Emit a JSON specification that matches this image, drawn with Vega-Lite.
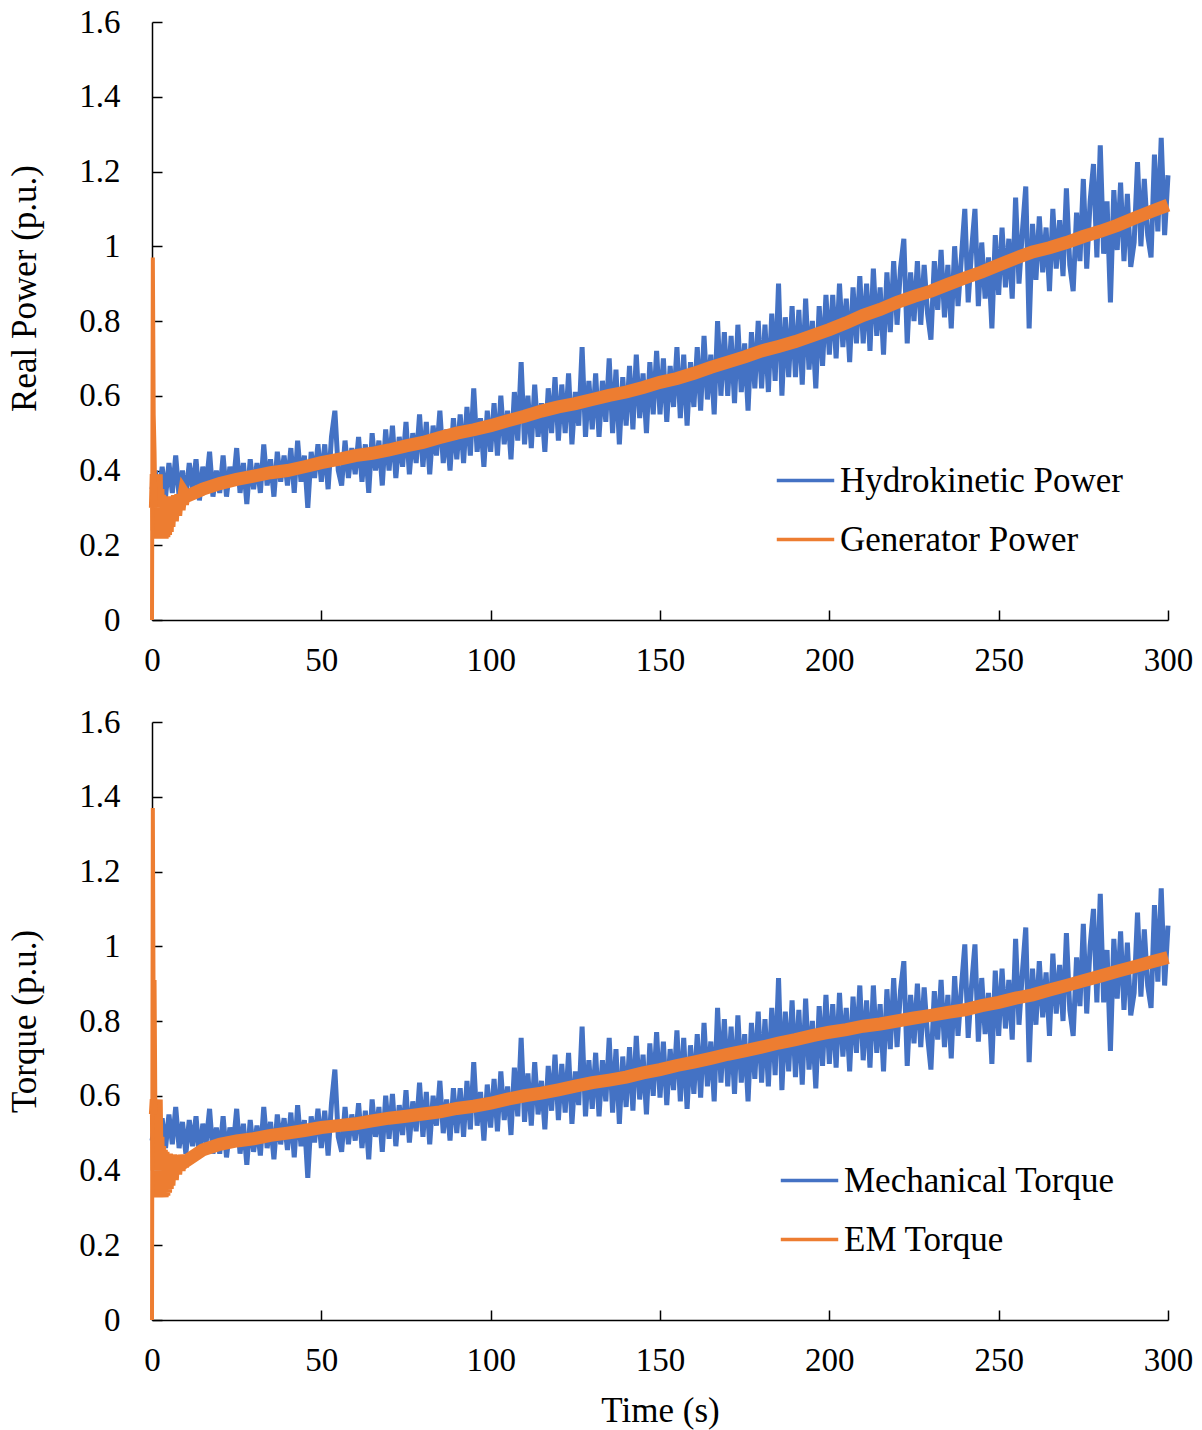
{
"$schema":"https://vega.github.io/schema/vega-lite/v6.json",
"background":"white",
"padding":{"left":7,"top":6,"right":10,"bottom":5},
"spacing":29,
"resolve":{"scale":{"color":"independent"},"legend":{"color":"independent"}},
"config":{
 "view":{"stroke":null},
 "font":"Liberation Serif",
 "axis":{"grid":false,"domainColor":"#000","domainWidth":1.5,"tickColor":"#000","tickWidth":1.5,"tickSize":-10,"labelFont":"Liberation Serif","labelFontSize":33,"labelColor":"#000","labelFlush":false,"titleFont":"Liberation Serif","titleFontSize":35,"titleFontWeight":"normal","titleColor":"#000"},
 "legend":{"labelFont":"Liberation Serif","labelFontSize":35,"labelColor":"#000","labelLimit":0}
},
"datasets":{
"hp":[{"t":0,"v":0.35},{"t":1,"v":0.40},{"t":2,"v":0.32},{"t":3,"v":0.41},{"t":4,"v":0.33},{"t":5,"v":0.42},{"t":6,"v":0.34},{"t":7,"v":0.44},{"t":8,"v":0.33},{"t":9,"v":0.40},
{"t":10,"v":0.33},{"t":11,"v":0.42},{"t":12,"v":0.35},{"t":13,"v":0.43},{"t":14,"v":0.32},{"t":15,"v":0.41},{"t":16,"v":0.36},{"t":17,"v":0.45},{"t":18,"v":0.33},{"t":19,"v":0.40},
{"t":20,"v":0.34},{"t":21,"v":0.44},{"t":22,"v":0.33},{"t":23,"v":0.41},{"t":24,"v":0.36},{"t":25,"v":0.46},{"t":26,"v":0.34},{"t":27,"v":0.42},{"t":28,"v":0.31},{"t":29,"v":0.43},
{"t":30,"v":0.35},{"t":31,"v":0.42},{"t":32,"v":0.34},{"t":33,"v":0.47},{"t":34,"v":0.36},{"t":35,"v":0.43},{"t":36,"v":0.33},{"t":37,"v":0.45},{"t":38,"v":0.37},{"t":39,"v":0.44},
{"t":40,"v":0.36},{"t":41,"v":0.46},{"t":42,"v":0.34},{"t":43,"v":0.48},{"t":44,"v":0.37},{"t":45,"v":0.44},{"t":46,"v":0.30},{"t":47,"v":0.45},{"t":48,"v":0.38},{"t":49,"v":0.47},
{"t":50,"v":0.37},{"t":51,"v":0.47},{"t":52,"v":0.35},{"t":53,"v":0.49},{"t":54,"v":0.56},{"t":55,"v":0.40},{"t":56,"v":0.36},{"t":57,"v":0.48},{"t":58,"v":0.38},{"t":59,"v":0.46},
{"t":60,"v":0.39},{"t":61,"v":0.49},{"t":62,"v":0.37},{"t":63,"v":0.47},{"t":64,"v":0.34},{"t":65,"v":0.50},{"t":66,"v":0.40},{"t":67,"v":0.48},{"t":68,"v":0.36},{"t":69,"v":0.51},
{"t":70,"v":0.40},{"t":71,"v":0.52},{"t":72,"v":0.38},{"t":73,"v":0.49},{"t":74,"v":0.41},{"t":75,"v":0.53},{"t":76,"v":0.39},{"t":77,"v":0.50},{"t":78,"v":0.42},{"t":79,"v":0.55},
{"t":80,"v":0.41},{"t":81,"v":0.53},{"t":82,"v":0.39},{"t":83,"v":0.52},{"t":84,"v":0.44},{"t":85,"v":0.56},{"t":86,"v":0.42},{"t":87,"v":0.51},{"t":88,"v":0.40},{"t":89,"v":0.54},
{"t":90,"v":0.43},{"t":91,"v":0.55},{"t":92,"v":0.42},{"t":93,"v":0.57},{"t":94,"v":0.44},{"t":95,"v":0.62},{"t":96,"v":0.45},{"t":97,"v":0.54},{"t":98,"v":0.41},{"t":99,"v":0.56},
{"t":100,"v":0.45},{"t":101,"v":0.58},{"t":102,"v":0.44},{"t":103,"v":0.60},{"t":104,"v":0.47},{"t":105,"v":0.56},{"t":106,"v":0.43},{"t":107,"v":0.61},{"t":108,"v":0.48},{"t":109,"v":0.69},
{"t":110,"v":0.47},{"t":111,"v":0.60},{"t":112,"v":0.46},{"t":113,"v":0.63},{"t":114,"v":0.49},{"t":115,"v":0.58},{"t":116,"v":0.45},{"t":117,"v":0.62},{"t":118,"v":0.50},{"t":119,"v":0.65},
{"t":120,"v":0.48},{"t":121,"v":0.63},{"t":122,"v":0.50},{"t":123,"v":0.66},{"t":124,"v":0.47},{"t":125,"v":0.61},{"t":126,"v":0.52},{"t":127,"v":0.73},{"t":128,"v":0.49},{"t":129,"v":0.64},
{"t":130,"v":0.51},{"t":131,"v":0.66},{"t":132,"v":0.49},{"t":133,"v":0.64},{"t":134,"v":0.53},{"t":135,"v":0.70},{"t":136,"v":0.50},{"t":137,"v":0.67},{"t":138,"v":0.47},{"t":139,"v":0.65},
{"t":140,"v":0.52},{"t":141,"v":0.68},{"t":142,"v":0.51},{"t":143,"v":0.71},{"t":144,"v":0.54},{"t":145,"v":0.66},{"t":146,"v":0.50},{"t":147,"v":0.69},{"t":148,"v":0.55},{"t":149,"v":0.72},
{"t":150,"v":0.55},{"t":151,"v":0.70},{"t":152,"v":0.53},{"t":153,"v":0.68},{"t":154,"v":0.57},{"t":155,"v":0.73},{"t":156,"v":0.54},{"t":157,"v":0.71},{"t":158,"v":0.52},{"t":159,"v":0.69},
{"t":160,"v":0.57},{"t":161,"v":0.73},{"t":162,"v":0.56},{"t":163,"v":0.76},{"t":164,"v":0.59},{"t":165,"v":0.71},{"t":166,"v":0.55},{"t":167,"v":0.80},{"t":168,"v":0.60},{"t":169,"v":0.77},
{"t":170,"v":0.60},{"t":171,"v":0.76},{"t":172,"v":0.58},{"t":173,"v":0.79},{"t":174,"v":0.61},{"t":175,"v":0.74},{"t":176,"v":0.56},{"t":177,"v":0.77},{"t":178,"v":0.62},{"t":179,"v":0.80},
{"t":180,"v":0.62},{"t":181,"v":0.79},{"t":182,"v":0.61},{"t":183,"v":0.82},{"t":184,"v":0.64},{"t":185,"v":0.90},{"t":186,"v":0.60},{"t":187,"v":0.81},{"t":188,"v":0.65},{"t":189,"v":0.84},
{"t":190,"v":0.65},{"t":191,"v":0.83},{"t":192,"v":0.63},{"t":193,"v":0.86},{"t":194,"v":0.67},{"t":195,"v":0.80},{"t":196,"v":0.62},{"t":197,"v":0.84},{"t":198,"v":0.68},{"t":199,"v":0.87},
{"t":200,"v":0.71},{"t":201,"v":0.87},{"t":202,"v":0.70},{"t":203,"v":0.90},{"t":204,"v":0.73},{"t":205,"v":0.86},{"t":206,"v":0.69},{"t":207,"v":0.89},{"t":208,"v":0.74},{"t":209,"v":0.92},
{"t":210,"v":0.74},{"t":211,"v":0.90},{"t":212,"v":0.72},{"t":213,"v":0.94},{"t":214,"v":0.76},{"t":215,"v":0.89},{"t":216,"v":0.71},{"t":217,"v":0.93},{"t":218,"v":0.77},{"t":219,"v":0.96},
{"t":220,"v":0.79},{"t":221,"v":0.94},{"t":222,"v":1.02},{"t":223,"v":0.74},{"t":224,"v":0.93},{"t":225,"v":0.80},{"t":226,"v":0.96},{"t":227,"v":0.79},{"t":228,"v":0.95},{"t":229,"v":0.82},
{"t":230,"v":0.75},{"t":231,"v":0.96},{"t":232,"v":0.83},{"t":233,"v":0.99},{"t":234,"v":0.81},{"t":235,"v":0.95},{"t":236,"v":0.78},{"t":237,"v":1.00},{"t":238,"v":0.84},{"t":239,"v":0.97},
{"t":240,"v":1.10},{"t":241,"v":0.85},{"t":242,"v":0.99},{"t":243,"v":1.10},{"t":244,"v":0.84},{"t":245,"v":1.01},{"t":246,"v":0.86},{"t":247,"v":0.97},{"t":248,"v":0.78},{"t":249,"v":1.03},
{"t":250,"v":0.87},{"t":251,"v":1.05},{"t":252,"v":0.89},{"t":253,"v":1.02},{"t":254,"v":0.86},{"t":255,"v":1.13},{"t":256,"v":0.90},{"t":257,"v":1.04},{"t":258,"v":1.16},{"t":259,"v":0.78},
{"t":260,"v":1.06},{"t":261,"v":0.91},{"t":262,"v":1.08},{"t":263,"v":0.93},{"t":264,"v":1.05},{"t":265,"v":0.88},{"t":266,"v":1.10},{"t":267,"v":0.94},{"t":268,"v":1.07},{"t":269,"v":0.92},
{"t":270,"v":1.155},{"t":271,"v":0.95},{"t":272,"v":0.88},{"t":273,"v":1.09},{"t":274,"v":0.96},{"t":275,"v":1.18},{"t":276,"v":0.94},{"t":277,"v":1.12},{"t":278,"v":1.22},{"t":279,"v":0.97},
{"t":280,"v":1.27},{"t":281,"v":0.98},{"t":282,"v":1.12},{"t":283,"v":0.85},{"t":284,"v":1.15},{"t":285,"v":0.99},{"t":286,"v":1.17},{"t":287,"v":0.96},{"t":288,"v":1.14},{"t":289,"v":0.945},
{"t":290,"v":1.01},{"t":291,"v":1.225},{"t":292,"v":1.00},{"t":293,"v":1.18},{"t":294,"v":1.03},{"t":295,"v":0.97},{"t":296,"v":1.245},{"t":297,"v":1.04},{"t":298,"v":1.29},{"t":299,"v":1.03},{"t":300,"v":1.19}],
"gs":[{"t":0,"v":0},{"t":0.25,"v":0.97},{"t":0.5,"v":0.55},{"t":0.75,"v":0.45},{"t":1,"v":0.30}],
"gp":[{"t":1,"v":0.30},{"t":1.25,"v":0.39},{"t":1.5,"v":0.24},{"t":1.75,"v":0.35},{"t":2,"v":0.222},{"t":2.25,"v":0.335},{"t":2.5,"v":0.218},{"t":2.75,"v":0.33},{"t":3,"v":0.218},{"t":3.25,"v":0.33},{"t":3.5,"v":0.222},{"t":3.75,"v":0.33},{"t":4,"v":0.228},{"t":4.25,"v":0.33},{"t":4.5,"v":0.236},{"t":4.75,"v":0.33},{"t":5,"v":0.25},{"t":5.5,"v":0.33},{"t":6,"v":0.265},{"t":6.5,"v":0.33},{"t":7,"v":0.28},{"t":7.5,"v":0.333},{"t":8,"v":0.295},{"t":8.5,"v":0.335},{"t":9,"v":0.31},{"t":9.5,"v":0.337},
{"t":10,"v":0.33},{"t":15,"v":0.35},{"t":20,"v":0.365},{"t":25,"v":0.376},{"t":30,"v":0.385},{"t":35,"v":0.394},{"t":40,"v":0.40},{"t":45,"v":0.41},{"t":50,"v":0.421},{"t":55,"v":0.43},
{"t":60,"v":0.44},{"t":65,"v":0.446},{"t":70,"v":0.455},{"t":75,"v":0.466},{"t":80,"v":0.475},{"t":85,"v":0.488},{"t":90,"v":0.50},{"t":95,"v":0.509},{"t":100,"v":0.52},{"t":105,"v":0.533},
{"t":110,"v":0.545},{"t":115,"v":0.559},{"t":120,"v":0.57},{"t":125,"v":0.579},{"t":130,"v":0.59},{"t":135,"v":0.601},{"t":140,"v":0.61},{"t":145,"v":0.622},{"t":150,"v":0.636},{"t":155,"v":0.646},
{"t":160,"v":0.66},{"t":165,"v":0.676},{"t":170,"v":0.69},{"t":175,"v":0.704},{"t":180,"v":0.72},{"t":185,"v":0.732},{"t":190,"v":0.745},{"t":195,"v":0.761},{"t":200,"v":0.777},{"t":205,"v":0.795},
{"t":210,"v":0.815},{"t":215,"v":0.831},{"t":220,"v":0.85},{"t":225,"v":0.866},{"t":230,"v":0.88},{"t":235,"v":0.898},{"t":240,"v":0.915},{"t":245,"v":0.931},{"t":250,"v":0.95},{"t":255,"v":0.968},
{"t":260,"v":0.985},{"t":265,"v":0.996},{"t":270,"v":1.01},{"t":275,"v":1.026},{"t":280,"v":1.04},{"t":285,"v":1.056},{"t":290,"v":1.075},{"t":295,"v":1.093},{"t":300,"v":1.11}],
"mt":[{"t":0,"v":0.48},{"t":1,"v":0.53},{"t":2,"v":0.45},{"t":3,"v":0.54},{"t":4,"v":0.46},{"t":5,"v":0.55},{"t":6,"v":0.47},{"t":7,"v":0.57},{"t":8,"v":0.46},{"t":9,"v":0.53},
{"t":10,"v":0.445},{"t":11,"v":0.535},{"t":12,"v":0.465},{"t":13,"v":0.545},{"t":14,"v":0.435},{"t":15,"v":0.525},{"t":16,"v":0.475},{"t":17,"v":0.565},{"t":18,"v":0.445},{"t":19,"v":0.515},
{"t":20,"v":0.445},{"t":21,"v":0.545},{"t":22,"v":0.435},{"t":23,"v":0.515},{"t":24,"v":0.465},{"t":25,"v":0.565},{"t":26,"v":0.445},{"t":27,"v":0.525},{"t":28,"v":0.415},{"t":29,"v":0.535},
{"t":30,"v":0.45},{"t":31,"v":0.52},{"t":32,"v":0.44},{"t":33,"v":0.57},{"t":34,"v":0.46},{"t":35,"v":0.53},{"t":36,"v":0.43},{"t":37,"v":0.55},{"t":38,"v":0.47},{"t":39,"v":0.54},
{"t":40,"v":0.455},{"t":41,"v":0.555},{"t":42,"v":0.435},{"t":43,"v":0.575},{"t":44,"v":0.465},{"t":45,"v":0.535},{"t":46,"v":0.38},{"t":47,"v":0.545},{"t":48,"v":0.475},{"t":49,"v":0.565},
{"t":50,"v":0.46},{"t":51,"v":0.56},{"t":52,"v":0.44},{"t":53,"v":0.58},{"t":54,"v":0.67},{"t":55,"v":0.49},{"t":56,"v":0.45},{"t":57,"v":0.57},{"t":58,"v":0.47},{"t":59,"v":0.55},
{"t":60,"v":0.48},{"t":61,"v":0.58},{"t":62,"v":0.46},{"t":63,"v":0.56},{"t":64,"v":0.43},{"t":65,"v":0.59},{"t":66,"v":0.49},{"t":67,"v":0.57},{"t":68,"v":0.45},{"t":69,"v":0.60},
{"t":70,"v":0.485},{"t":71,"v":0.605},{"t":72,"v":0.465},{"t":73,"v":0.575},{"t":74,"v":0.495},{"t":75,"v":0.615},{"t":76,"v":0.475},{"t":77,"v":0.585},{"t":78,"v":0.505},{"t":79,"v":0.635},
{"t":80,"v":0.49},{"t":81,"v":0.61},{"t":82,"v":0.47},{"t":83,"v":0.60},{"t":84,"v":0.52},{"t":85,"v":0.64},{"t":86,"v":0.50},{"t":87,"v":0.59},{"t":88,"v":0.48},{"t":89,"v":0.62},
{"t":90,"v":0.50},{"t":91,"v":0.62},{"t":92,"v":0.49},{"t":93,"v":0.64},{"t":94,"v":0.51},{"t":95,"v":0.69},{"t":96,"v":0.52},{"t":97,"v":0.61},{"t":98,"v":0.48},{"t":99,"v":0.63},
{"t":100,"v":0.515},{"t":101,"v":0.645},{"t":102,"v":0.505},{"t":103,"v":0.665},{"t":104,"v":0.535},{"t":105,"v":0.625},{"t":106,"v":0.495},{"t":107,"v":0.675},{"t":108,"v":0.545},{"t":109,"v":0.755},
{"t":110,"v":0.53},{"t":111,"v":0.66},{"t":112,"v":0.52},{"t":113,"v":0.69},{"t":114,"v":0.55},{"t":115,"v":0.64},{"t":116,"v":0.51},{"t":117,"v":0.68},{"t":118,"v":0.56},{"t":119,"v":0.71},
{"t":120,"v":0.535},{"t":121,"v":0.685},{"t":122,"v":0.555},{"t":123,"v":0.715},{"t":124,"v":0.525},{"t":125,"v":0.665},{"t":126,"v":0.575},{"t":127,"v":0.785},{"t":128,"v":0.545},{"t":129,"v":0.695},
{"t":130,"v":0.565},{"t":131,"v":0.715},{"t":132,"v":0.545},{"t":133,"v":0.695},{"t":134,"v":0.585},{"t":135,"v":0.755},{"t":136,"v":0.555},{"t":137,"v":0.725},{"t":138,"v":0.525},{"t":139,"v":0.705},
{"t":140,"v":0.57},{"t":141,"v":0.73},{"t":142,"v":0.56},{"t":143,"v":0.76},{"t":144,"v":0.59},{"t":145,"v":0.71},{"t":146,"v":0.55},{"t":147,"v":0.74},{"t":148,"v":0.60},{"t":149,"v":0.77},
{"t":150,"v":0.595},{"t":151,"v":0.745},{"t":152,"v":0.575},{"t":153,"v":0.725},{"t":154,"v":0.615},{"t":155,"v":0.775},{"t":156,"v":0.585},{"t":157,"v":0.755},{"t":158,"v":0.565},{"t":159,"v":0.735},
{"t":160,"v":0.605},{"t":161,"v":0.765},{"t":162,"v":0.595},{"t":163,"v":0.795},{"t":164,"v":0.625},{"t":165,"v":0.745},{"t":166,"v":0.585},{"t":167,"v":0.835},{"t":168,"v":0.635},{"t":169,"v":0.805},
{"t":170,"v":0.625},{"t":171,"v":0.785},{"t":172,"v":0.605},{"t":173,"v":0.815},{"t":174,"v":0.635},{"t":175,"v":0.765},{"t":176,"v":0.585},{"t":177,"v":0.795},{"t":178,"v":0.645},{"t":179,"v":0.825},
{"t":180,"v":0.635},{"t":181,"v":0.805},{"t":182,"v":0.625},{"t":183,"v":0.835},{"t":184,"v":0.655},{"t":185,"v":0.915},{"t":186,"v":0.615},{"t":187,"v":0.825},{"t":188,"v":0.665},{"t":189,"v":0.855},
{"t":190,"v":0.65},{"t":191,"v":0.83},{"t":192,"v":0.63},{"t":193,"v":0.86},{"t":194,"v":0.67},{"t":195,"v":0.80},{"t":196,"v":0.62},{"t":197,"v":0.84},{"t":198,"v":0.68},{"t":199,"v":0.87},
{"t":200,"v":0.685},{"t":201,"v":0.845},{"t":202,"v":0.675},{"t":203,"v":0.875},{"t":204,"v":0.705},{"t":205,"v":0.835},{"t":206,"v":0.665},{"t":207,"v":0.865},{"t":208,"v":0.715},{"t":209,"v":0.895},
{"t":210,"v":0.695},{"t":211,"v":0.855},{"t":212,"v":0.675},{"t":213,"v":0.895},{"t":214,"v":0.715},{"t":215,"v":0.845},{"t":216,"v":0.665},{"t":217,"v":0.885},{"t":218,"v":0.725},{"t":219,"v":0.915},
{"t":220,"v":0.73},{"t":221,"v":0.88},{"t":222,"v":0.96},{"t":223,"v":0.68},{"t":224,"v":0.87},{"t":225,"v":0.74},{"t":226,"v":0.90},{"t":227,"v":0.73},{"t":228,"v":0.89},{"t":229,"v":0.76},
{"t":230,"v":0.67},{"t":231,"v":0.88},{"t":232,"v":0.75},{"t":233,"v":0.91},{"t":234,"v":0.73},{"t":235,"v":0.87},{"t":236,"v":0.70},{"t":237,"v":0.92},{"t":238,"v":0.76},{"t":239,"v":0.89},
{"t":240,"v":1.005},{"t":241,"v":0.755},{"t":242,"v":0.895},{"t":243,"v":1.005},{"t":244,"v":0.745},{"t":245,"v":0.915},{"t":246,"v":0.765},{"t":247,"v":0.875},{"t":248,"v":0.685},{"t":249,"v":0.935},
{"t":250,"v":0.76},{"t":251,"v":0.94},{"t":252,"v":0.78},{"t":253,"v":0.91},{"t":254,"v":0.75},{"t":255,"v":1.02},{"t":256,"v":0.79},{"t":257,"v":0.93},{"t":258,"v":1.05},{"t":259,"v":0.69},
{"t":260,"v":0.94},{"t":261,"v":0.79},{"t":262,"v":0.96},{"t":263,"v":0.81},{"t":264,"v":0.93},{"t":265,"v":0.76},{"t":266,"v":0.98},{"t":267,"v":0.82},{"t":268,"v":0.95},{"t":269,"v":0.80},
{"t":270,"v":1.035},{"t":271,"v":0.83},{"t":272,"v":0.76},{"t":273,"v":0.97},{"t":274,"v":0.84},{"t":275,"v":1.06},{"t":276,"v":0.82},{"t":277,"v":1.00},{"t":278,"v":1.10},{"t":279,"v":0.85},
{"t":280,"v":1.14},{"t":281,"v":0.85},{"t":282,"v":0.99},{"t":283,"v":0.72},{"t":284,"v":1.02},{"t":285,"v":0.86},{"t":286,"v":1.04},{"t":287,"v":0.83},{"t":288,"v":1.01},{"t":289,"v":0.815},
{"t":290,"v":0.875},{"t":291,"v":1.09},{"t":292,"v":0.865},{"t":293,"v":1.045},{"t":294,"v":0.895},{"t":295,"v":0.835},{"t":296,"v":1.11},{"t":297,"v":0.905},{"t":298,"v":1.155},{"t":299,"v":0.895},{"t":300,"v":1.055}],
"es":[{"t":0,"v":0},{"t":0.25,"v":1.37},{"t":0.5,"v":0.75},{"t":0.75,"v":0.91},{"t":1,"v":0.55}],
"em":[{"t":1,"v":0.55},{"t":1.25,"v":0.59},{"t":1.5,"v":0.40},{"t":1.75,"v":0.49},{"t":2,"v":0.34},{"t":2.25,"v":0.465},{"t":2.5,"v":0.328},{"t":2.75,"v":0.455},{"t":3,"v":0.328},{"t":3.25,"v":0.45},{"t":3.5,"v":0.333},{"t":3.75,"v":0.445},{"t":4,"v":0.34},{"t":4.25,"v":0.445},{"t":4.5,"v":0.35},{"t":4.75,"v":0.442},{"t":5,"v":0.36},{"t":5.5,"v":0.442},{"t":6,"v":0.375},{"t":6.5,"v":0.44},{"t":7,"v":0.39},{"t":7.5,"v":0.44},{"t":8,"v":0.40},{"t":8.5,"v":0.44},{"t":9,"v":0.41},{"t":9.5,"v":0.44},
{"t":10,"v":0.425},{"t":15,"v":0.455},{"t":20,"v":0.47},{"t":25,"v":0.479},{"t":30,"v":0.485},{"t":35,"v":0.494},{"t":40,"v":0.50},{"t":45,"v":0.507},{"t":50,"v":0.515},{"t":55,"v":0.52},
{"t":60,"v":0.525},{"t":65,"v":0.533},{"t":70,"v":0.54},{"t":75,"v":0.545},{"t":80,"v":0.551},{"t":85,"v":0.557},{"t":90,"v":0.566},{"t":95,"v":0.572},{"t":100,"v":0.58},{"t":105,"v":0.591},
{"t":110,"v":0.60},{"t":115,"v":0.607},{"t":120,"v":0.616},{"t":125,"v":0.626},{"t":130,"v":0.635},{"t":135,"v":0.642},{"t":140,"v":0.65},{"t":145,"v":0.661},{"t":150,"v":0.67},{"t":155,"v":0.681},
{"t":160,"v":0.69},{"t":165,"v":0.70},{"t":170,"v":0.711},{"t":175,"v":0.72},{"t":180,"v":0.73},{"t":185,"v":0.741},{"t":190,"v":0.75},{"t":195,"v":0.761},{"t":200,"v":0.77},{"t":205,"v":0.777},
{"t":210,"v":0.786},{"t":215,"v":0.792},{"t":220,"v":0.80},{"t":225,"v":0.808},{"t":230,"v":0.815},{"t":235,"v":0.823},{"t":240,"v":0.83},{"t":245,"v":0.841},{"t":250,"v":0.85},{"t":255,"v":0.861},
{"t":260,"v":0.87},{"t":265,"v":0.883},{"t":270,"v":0.895},{"t":275,"v":0.908},{"t":280,"v":0.92},{"t":285,"v":0.933},{"t":290,"v":0.945},{"t":295,"v":0.958},{"t":300,"v":0.97}]
},
"vconcat":[
{
 "width":1016,"height":598,
 "encoding":{
  "x":{"field":"t","type":"quantitative","scale":{"domain":[0,300],"nice":false},"axis":{"values":[0,50,100,150,200,250,300],"title":null,"labelPadding":34}},
  "y":{"field":"v","type":"quantitative","scale":{"domain":[0,1.6],"nice":false},"axis":{"values":[0,0.2,0.4,0.6,0.8,1,1.2,1.4,1.6],"format":"~g","title":"Real Power (p.u.)","titleY":266,"labelPadding":42,"titlePadding":36}}
 },
 "layer":[
  {"data":{"name":"hp"},"mark":{"type":"line","strokeWidth":5,"strokeJoin":"miter"},
   "encoding":{"color":{"datum":"Hydrokinetic Power","type":"nominal","scale":{"domain":["Hydrokinetic Power","Generator Power"],"range":["#4472C4","#ED7D31"]},
    "legend":{"title":null,"orient":"none","legendX":623,"legendY":428,"symbolType":"stroke","symbolStrokeWidth":3.5,"symbolSize":3300,"labelFontSize":35,"labelOffset":4,"rowPadding":10,"padding":0,"labelLimit":0}}}},
  {"data":{"name":"gp"},"mark":{"type":"line","strokeWidth":13},
   "encoding":{"color":{"datum":"Generator Power","type":"nominal"}}},
  {"data":{"name":"gs"},"mark":{"type":"line","strokeWidth":4},
   "encoding":{"color":{"datum":"Generator Power","type":"nominal"}}}
 ]
},
{
 "width":1016,"height":598,
 "encoding":{
  "x":{"field":"t","type":"quantitative","scale":{"domain":[0,300],"nice":false},"axis":{"values":[0,50,100,150,200,250,300],"title":"Time (s)","labelPadding":34,"titlePadding":16}},
  "y":{"field":"v","type":"quantitative","scale":{"domain":[0,1.6],"nice":false},"axis":{"values":[0,0.2,0.4,0.6,0.8,1,1.2,1.4,1.6],"format":"~g","title":"Torque (p.u.)","labelPadding":42,"titlePadding":36}}
 },
 "layer":[
  {"data":{"name":"mt"},"mark":{"type":"line","strokeWidth":5,"strokeJoin":"miter"},
   "encoding":{"color":{"datum":"Mechanical Torque","type":"nominal","scale":{"domain":["Mechanical Torque","EM Torque"],"range":["#4472C4","#ED7D31"]},
    "legend":{"title":null,"orient":"none","legendX":627,"legendY":428,"symbolType":"stroke","symbolStrokeWidth":3.5,"symbolSize":3300,"labelFontSize":35,"labelOffset":4,"rowPadding":10,"padding":0,"labelLimit":0}}}},
  {"data":{"name":"em"},"mark":{"type":"line","strokeWidth":13},
   "encoding":{"color":{"datum":"EM Torque","type":"nominal"}}},
  {"data":{"name":"es"},"mark":{"type":"line","strokeWidth":4},
   "encoding":{"color":{"datum":"EM Torque","type":"nominal"}}}
 ]
}
]
}
